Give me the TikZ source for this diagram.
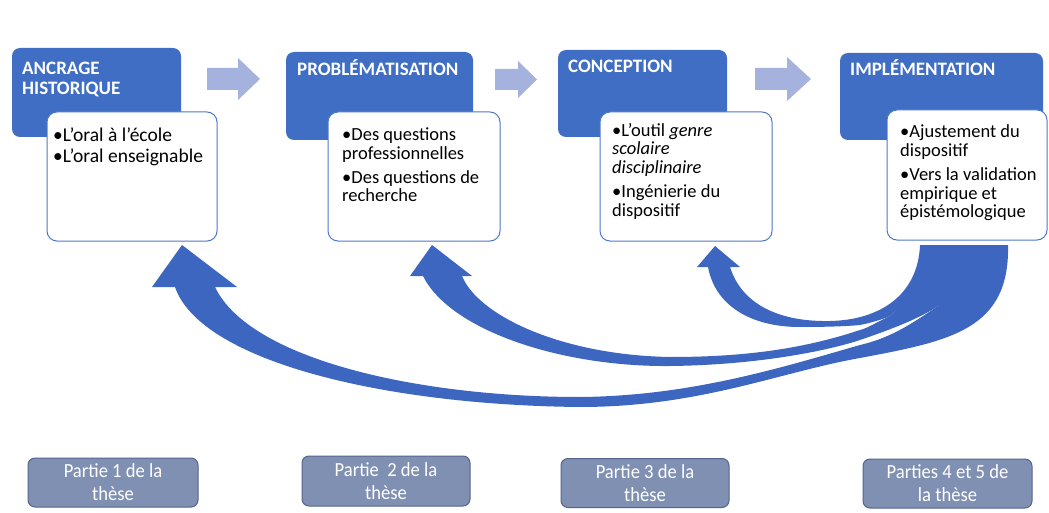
\documentclass[tikz,border=0pt]{standalone}
\usepackage{fontspec}
\setmainfont{Carlito}
\newfontfamily\condensedfont{Carlito}[FakeStretch=0.93]
\definecolor{boxblue}{RGB}{64,110,196}
\definecolor{arrowblue}{RGB}{60,102,192}
\definecolor{edgeblue}{RGB}{80,120,200}
\definecolor{greyarrow}{RGB}{165,178,222}
\definecolor{slate}{RGB}{128,144,178}
\definecolor{slateedge}{RGB}{85,100,140}
\begin{document}
\begin{tikzpicture}[x=1pt,y=-1pt,
  darkbox/.style={fill=boxblue, rounded corners=8pt, inner sep=0pt},
  textbox/.style={fill=white, draw=edgeblue, line width=1pt, rounded corners=10pt, inner sep=0pt},
  partbox/.style={fill=slate, draw=slateedge, line width=1pt, rounded corners=7pt, text=white, align=center, inner sep=0pt, font=\condensedfont\fontsize{20}{23}\selectfont},
  titletext/.style={text=white, font=\bfseries\fontsize{19}{20}\selectfont, anchor=base west, inner sep=0pt, align=left},
  bodytext/.style={font=\fontsize{18.5}{18.5}\selectfont, anchor=base west, inner sep=0pt, align=left},
  greyarr/.style={fill=greyarrow},
  curvearr/.style={fill=arrowblue}]
\useasboundingbox[fill=white] (0,0) rectangle (1049,513);

% dark title boxes
\node[darkbox, minimum width=169pt, minimum height=89pt] (d1) at (96.5,92.5) {};
\node[darkbox, minimum width=187pt, minimum height=88pt] (d2) at (379.5,96) {};
\node[darkbox, minimum width=169pt, minimum height=87pt] (d3) at (642.5,93.5) {};
\node[darkbox, minimum width=203pt, minimum height=87pt] (d4) at (941.5,96.5) {};

% white content boxes
\node[textbox, minimum width=170pt, minimum height=129pt] (w1) at (132,176.5) {};
\node[textbox, minimum width=172pt, minimum height=129pt] (w2) at (414,176.5) {};
\node[textbox, minimum width=172pt, minimum height=129pt] (w3) at (686,176.5) {};
\node[textbox, minimum width=160pt, minimum height=130pt] (w4) at (967,175) {};

% titles (anchor = baseline of last line)
\node[titletext] (t1) at (22,95) {ANCRAGE\\HISTORIQUE};
\node[titletext] (t2) at (297,76) {PROBLÉMATISATION};
\node[titletext] (t3) at (568,73) {CONCEPTION};
\node[titletext] (t4) at (850,76) {IMPLÉMENTATION};

% body texts (anchor = baseline of last line)
\node[bodytext, font=\fontsize{19.5}{21}\selectfont] (b1) at (53,163) {•L’oral à l’école\\•L’oral enseignable};
\node[bodytext] (b2) at (342,202) {•Des questions\\professionnelles\\[6pt]•Des questions de\\recherche};
\node[bodytext] (b3) at (612,216) {•L’outil \textit{genre}\\\textit{scolaire}\\\textit{disciplinaire}\\[6pt]•Ingénierie du\\dispositif};
\node[bodytext] (b4) at (900,218) {•Ajustement du\\dispositif\\[6pt]•Vers la validation\\empirique et\\épistémologique};

% grey arrows between steps
\fill[greyarr] (207,68) -- (238,68) -- (238,58) -- (260,79) -- (238,100) -- (238,90) -- (207,90) -- cycle;
\fill[greyarr] (495,69) -- (518,69) -- (518,61) -- (537,79.5) -- (518,98) -- (518,90) -- (495,90) -- cycle;
\fill[greyarr] (755,68) -- (787,68) -- (787,57) -- (811,79) -- (787,101) -- (787,90) -- (755,90) -- cycle;

% curved arrows back from implementation
\fill[curvearr] (182,245) -- (237,287) -- (215,287)
  .. controls (250,360) and (420,397) .. (580,397)
  .. controls (690,396) and (780,368) .. (860,345)
  .. controls (890,338) and (910,325) .. (938,306)
  .. controls (945,295) and (950,275) .. (950,245)
  -- (1008,245)
  .. controls (1010,330) and (950,341) .. (860,358)
  .. controls (780,372) and (700,407) .. (580,407)
  .. controls (380,405) and (200,360) .. (175,287)
  -- (152,287) -- cycle;
\fill[curvearr] (432,245) -- (472,276) -- (462,276)
  .. controls (478,315) and (560,355) .. (670,357)
  .. controls (740,357) and (800,350) .. (860,330)
  .. controls (868,328) and (875,323) .. (888,317)
  .. controls (905,305) and (920,280) .. (925,245)
  -- (980,245)
  .. controls (975,265) and (960,290) .. (938,306)
  .. controls (920,318) and (895,328) .. (860,340)
  .. controls (830,350) and (760,365) .. (670,366)
  .. controls (560,367) and (450,330) .. (423,276)
  -- (410,276) -- cycle;
\fill[curvearr] (715,246) -- (740,267) -- (730,267)
  .. controls (742,305) and (780,322) .. (830,321)
  .. controls (880,320) and (918,295) .. (920,245)
  -- (945,245)
  .. controls (935,270) and (905,305) .. (888,317)
  .. controls (880,320) and (870,323) .. (860,325)
  .. controls (850,326) and (830,327) .. (800,327)
  .. controls (750,327) and (715,305) .. (708,267)
  -- (697,267) -- cycle;

% thesis parts
\node[partbox, minimum width=170pt, minimum height=49pt] (p1) at (113,482.5) {Partie 1 de la\\thèse};
\node[partbox, minimum width=168pt, minimum height=50pt] (p2) at (386,481) {Partie~ 2 de la\\thèse};
\node[partbox, minimum width=168pt, minimum height=49pt] (p3) at (645,483) {Partie 3 de la\\thèse};
\node[partbox, minimum width=169pt, minimum height=49pt] (p4) at (947.5,483.5) {Parties 4 et 5 de\\la thèse};
\end{tikzpicture}
\end{document}
